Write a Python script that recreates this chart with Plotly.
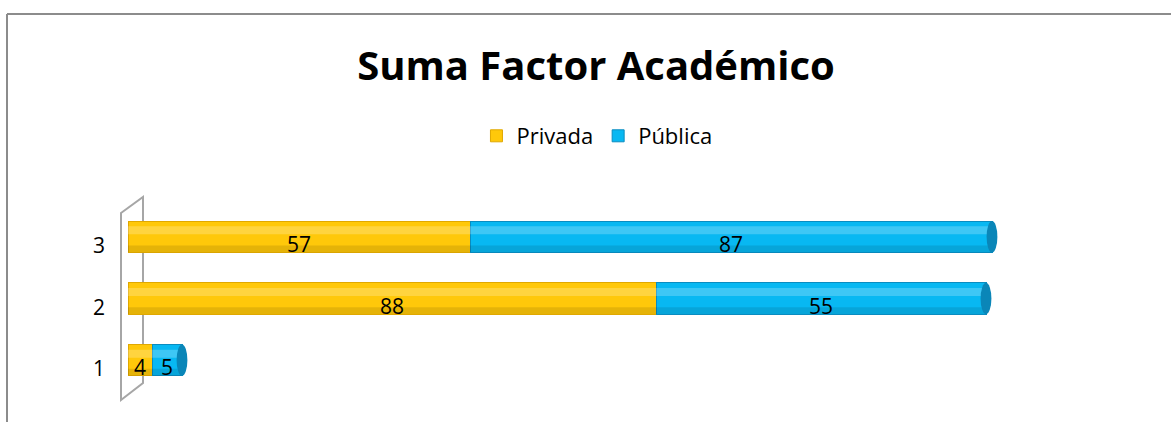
import plotly.graph_objects as go

categorias = [1, 2, 3]
privada = [4, 88, 57]
publica = [5, 55, 87]

W, H = 1171, 422
L, R, T, B = 128, 83, 206, 31
pw, ph = W - L - R, H - T - B


def px(x):
    return (x - L) / pw


def py(y):
    return (H - B - y) / ph


fig = go.Figure()
fig.add_trace(go.Bar(
    y=categorias, x=privada, name='Privada', orientation='h',
    marker={'color': '#FFC80A', 'line': {'color': '#E0A800', 'width': 1}},
    textposition='none', width=0.51))
fig.add_trace(go.Bar(
    y=categorias, x=publica, name='Pública', orientation='h',
    marker={'color': '#08B8F2', 'line': {'color': '#0A8CC0', 'width': 1}},
    textposition='none', width=0.51))

anns = []
for c, a, b in zip(categorias, privada, publica):
    anns.append(dict(x=a / 2, y=c, xref='x', yref='y', text=str(a), showarrow=False,
                     yshift=-7, font={'size': 21}))
    anns.append(dict(x=a + b / 2, y=c, xref='x', yref='y', text=str(b), showarrow=False,
                     yshift=-7, font={'size': 21}))
    anns.append(dict(x=px(91), y=c, xref='paper', yref='y', text=str(c), showarrow=False,
                     yshift=-8, font={'size': 21}))

shapes = []
# efecto de cilindro y extremos, calculados a partir de los datos
for c, a, b in zip(categorias, privada, publica):
    tot = a + b
    shapes.append(dict(type='rect', xref='x', yref='y', x0=0, x1=tot,
                       y0=c + 0.04, y1=c + 0.17, fillcolor='rgba(255,255,255,0.22)',
                       line={'width': 0}))
    shapes.append(dict(type='rect', xref='x', yref='y', x0=0, x1=tot,
                       y0=c - 0.25, y1=c - 0.14, fillcolor='rgba(0,0,0,0.10)',
                       line={'width': 0}))
    shapes.append(dict(type='circle', xref='x', yref='y', x0=tot - 0.9, x1=tot + 0.9,
                       y0=c - 0.255, y1=c + 0.255, fillcolor='#0A86B8', line={'width': 0}))
    shapes.append(dict(type='circle', xref='x', yref='y', x0=-0.9, x1=0.9,
                       y0=c - 0.255, y1=c + 0.255, fillcolor='#FFC80A', line={'width': 0},
                       layer='below'))
# pared 3D
wall = 'M {} {} L {} {} L {} {} L {} {} Z'.format(
    px(121), py(213), px(143), py(197), px(143), py(383), px(121), py(400))
shapes.append(dict(type='path', xref='paper', yref='paper', path=wall,
                   line={'color': '#A6A6A6', 'width': 2}, layer='below'))
# borde del grafico
shapes.append(dict(type='line', xref='paper', yref='paper', x0=px(7), x1=px(1180),
                   y0=py(14), y1=py(14), line={'color': '#8C8C8C', 'width': 2}))
shapes.append(dict(type='line', xref='paper', yref='paper', x0=px(7), x1=px(7),
                   y0=py(14), y1=py(430), line={'color': '#8C8C8C', 'width': 2}))

fig.update_layout(
    width=W, height=H, barmode='stack',
    margin={'l': L, 'r': R, 't': T, 'b': B},
    paper_bgcolor='white', plot_bgcolor='white',
    font={'family': 'Open Sans', 'color': 'black'},
    title={'text': '<b>Suma Factor Académico</b>', 'x': 0.509, 'xanchor': 'center',
           'y': 1 - 66 / H, 'yanchor': 'middle', 'font': {'size': 40, 'color': 'black'}},
    legend={'orientation': 'h', 'x': 0.4885, 'xanchor': 'center', 'y': py(136),
            'yanchor': 'middle', 'font': {'size': 22}, 'traceorder': 'normal'},
    xaxis={'range': [0, 160], 'visible': False},
    yaxis={'range': [0.5, 3.5], 'showticklabels': False, 'showgrid': False,
           'zeroline': False},
    annotations=anns, shapes=shapes, bargap=0.49)

fig.write_html('out.html', config={'displayModeBar': False},
               post_script="document.body.style.margin='0';")
